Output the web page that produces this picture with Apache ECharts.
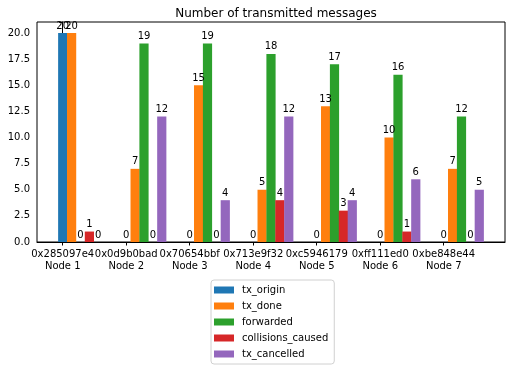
<!DOCTYPE html>
<html>
<head>
<meta charset="utf-8">
<script src="https://cdn.jsdelivr.net/npm/echarts@6/dist/echarts.min.js"></script>
<style>html,body{margin:0;padding:0;background:#fff}#c{width:512px;height:369px}</style>
</head>
<body>
<div id="c"></div>
<script>
const nodeIds = ['0x285097e4','0x0d9b0bad','0x70654bbf','0x713e9f32','0xc5946179','0xff111ed0','0xbe848e44'];
const nodeNames = ['Node 1','Node 2','Node 3','Node 4','Node 5','Node 6','Node 7'];
const seriesNames = ['tx_origin','tx_done','forwarded','collisions_caused','tx_cancelled'];
const txOrigin = [20,0,0,0,0,0,0];
const txDone = [20,7,15,5,13,10,7];
const forwarded = [0,19,19,18,17,16,12];
const collisions = [1,0,0,4,3,1,0];
const txCancelled = [0,12,4,12,4,6,5];
const yTicks = [0,2.5,5,7.5,10,12.5,15,17.5,20];
const colors = ['#1f77b4','#ff7f0e','#2ca02c','#d62728','#9467bd'];

const allValues = [txOrigin, txDone, forwarded, collisions, txCancelled];
const barW = 0.14;
const font = 'DejaVu Sans';

const series = allValues.map((vals, k) => ({
  name: seriesNames[k],
  type: 'bar',
  barWidth: 9.2,
  barGap: '-100%',
  itemStyle: { color: colors[k] },
  label: { show: true, position: 'top', distance: 2, color: '#000', fontSize: 10, fontFamily: font,
           formatter: p => String(p.value[1]) },
  data: vals.map((v, i) => [i + k * barW, v])
}));

const chart = echarts.init(document.getElementById('c'), null, { renderer: 'canvas' });
chart.setOption({
  animation: false,
  title: { text: 'Number of transmitted messages', left: 271, top: 3, textAlign: 'center',
           textStyle: { fontSize: 12, fontWeight: 'normal', color: '#000', fontFamily: font } },
  grid: { left: 37, top: 22, right: 7, bottom: 127, show: true, borderColor: '#000', borderWidth: 1, containLabel: false },
  legend: {
    orient: 'vertical', left: 211, top: 280,
    itemWidth: 20, itemHeight: 7, itemGap: 4,
    padding: [4, 6, 4, 3],
    borderColor: '#d0d0d0', borderWidth: 1, borderRadius: 3,
    icon: 'rect',
    textStyle: { fontSize: 10, color: '#000', fontFamily: font, lineHeight: 12, padding: [0, 0, 0, 3] },
    data: seriesNames
  },
  xAxis: {
    type: 'value', min: -0.405, max: 6.965,
    splitLine: { show: false },
    axisLine: { show: true, lineStyle: { color: '#000' } },
    axisTick: { show: true, customValues: [0,1,2,3,4,5,6], length: 3.5, lineStyle: { color: '#000' } },
    axisLabel: { customValues: [0,1,2,3,4,5,6], margin: 6, fontSize: 10, color: '#000', fontFamily: font, lineHeight: 12,
                 formatter: v => nodeIds[Math.round(v)] + '\n' + nodeNames[Math.round(v)] }
  },
  yAxis: {
    type: 'value', min: 0, max: 21.05, interval: 2.5,
    splitLine: { show: false },
    axisLine: { show: true, lineStyle: { color: '#000' } },
    axisTick: { show: true, length: 3.5, lineStyle: { color: '#000' } },
    axisLabel: { margin: 7, fontSize: 10, color: '#000', fontFamily: font,
                 customValues: yTicks, formatter: v => v.toFixed(1) }
  },
  series: series
});
</script>
</body>
</html>
